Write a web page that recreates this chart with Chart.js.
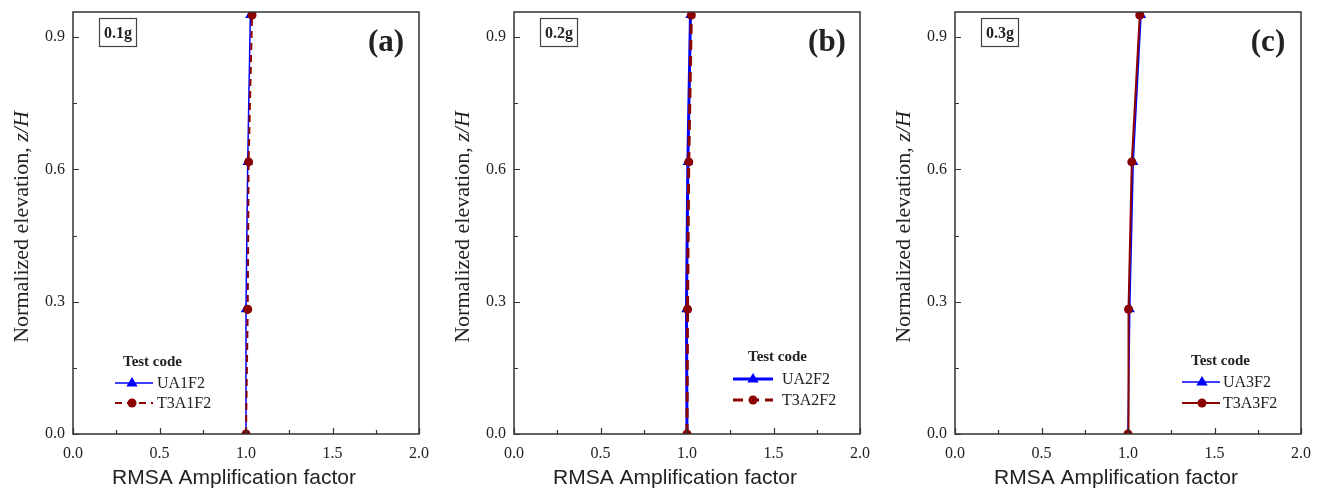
<!DOCTYPE html>
<html>
<head>
<meta charset="utf-8">
<script src="https://cdn.jsdelivr.net/npm/chart.js@4.4.0/dist/chart.umd.min.js"></script>
<style>
html,body{margin:0;padding:0;background:#fff;width:1321px;height:494px;overflow:hidden;}
.p{position:absolute;top:0;width:440px;height:494px;}
</style>
</head>
<body>
<div class="p" style="left:0px"><canvas id="c0" width="440" height="494"></canvas></div>
<div class="p" style="left:441px"><canvas id="c1" width="440" height="494"></canvas></div>
<div class="p" style="left:882px"><canvas id="c2" width="440" height="494"></canvas></div>
<script>
// ---- data ----
const elevations = [0, 0.283, 0.617, 0.95];
const ua1f2 = [1.0, 1.0, 1.01, 1.025];
const t3a1f2 = [1.0, 1.01, 1.015, 1.035];
const ua2f2 = [1.0, 0.997, 1.005, 1.02];
const t3a2f2 = [1.0, 1.003, 1.01, 1.025];
const ua3f2 = [1.0, 1.01, 1.03, 1.075];
const t3a3f2 = [1.0, 1.003, 1.022, 1.068];
const seriesNames = [["UA1F2","T3A1F2"],["UA2F2","T3A2F2"],["UA3F2","T3A3F2"]];
const seriesValues = [[ua1f2, t3a1f2],[ua2f2, t3a2f2],[ua3f2, t3a3f2]];
const pgaLabels = ["0.1g","0.2g","0.3g"];
const panelTags = ["(a)","(b)","(c)"];
const xTicks = [0, 0.5, 1.0, 1.5, 2.0];
const xMinor = [0.25, 0.75, 1.25, 1.75];
const yTicks = [0, 0.3, 0.6, 0.9];
const yMinor = [0.15, 0.45, 0.75];
const xTitle = "RMSA Amplification factor";
const yTitleMain = "Normalized elevation, ";
const yTitleItalic = "z/H";
const legendTitle = "Test code";

// ---- styles ----
const BLUE = "#0000FF", RED = "#8B0000";
const lineStyles = [
  [{w:1.5, dash:[]},{w:2, dash:[7,5]}],
  [{w:3, dash:[]},{w:3, dash:[10,6]}],
  [{w:1.6, dash:[]},{w:2, dash:[]}]
];
const legendLayout = [
  {title:123, y:[383,403], x0:115, x1:153, mx:132, tx:157, ty:362},
  {title:307, y:[379,400], x0:292, x1:332, mx:312, tx:341, ty:357},
  {title:309, y:[382,403], x0:300, x1:338, mx:320, tx:341, ty:361}
];
const SERIF = "'Liberation Serif', 'Times New Roman', serif";
const SANS = "'Liberation Sans', Arial, sans-serif";
const AXC = "#333";

function drawMarker(ctx, type, x, y, color){
  ctx.save();
  ctx.fillStyle = color;
  ctx.beginPath();
  if(type==='triangle'){
    const r=6;
    ctx.moveTo(x, y - r);
    ctx.lineTo(x + r*0.95, y + r*0.6);
    ctx.lineTo(x - r*0.95, y + r*0.6);
    ctx.closePath();
  } else {
    ctx.arc(x, y, 4.5, 0, Math.PI*2);
  }
  ctx.fill();
  ctx.restore();
}

const decor = {
  id:'decor',
  afterDraw(chart){
    const idx = chart.options.plugins.decor.idx;
    const {ctx, chartArea:a, scales:{x, y}} = chart;
    ctx.save();
    // frame
    ctx.strokeStyle = AXC; ctx.lineWidth = 1.5; ctx.setLineDash([]);
    ctx.strokeRect(a.left, a.top, a.right - a.left, a.bottom - a.top);
    ctx.lineWidth = 1.2;
    ctx.beginPath();
    yTicks.forEach(v=>{const p=Math.round(y.getPixelForValue(v))+0.5; ctx.moveTo(a.left, p); ctx.lineTo(a.left+6, p);});
    yMinor.forEach(v=>{const p=Math.round(y.getPixelForValue(v))+0.5; ctx.moveTo(a.left, p); ctx.lineTo(a.left+4, p);});
    xTicks.forEach(v=>{const p=Math.round(x.getPixelForValue(v))+0.5; ctx.moveTo(p, a.bottom); ctx.lineTo(p, a.bottom-6);});
    xMinor.forEach(v=>{const p=Math.round(x.getPixelForValue(v))+0.5; ctx.moveTo(p, a.bottom); ctx.lineTo(p, a.bottom-4);});
    ctx.stroke();

    // axis titles
    ctx.fillStyle = "#222";
    ctx.font = "21px " + SANS;
    ctx.textAlign = "center"; ctx.textBaseline = "alphabetic";
    ctx.fillText(xTitle, 234, 484);

    ctx.save();
    ctx.translate(28, 227);
    ctx.rotate(-Math.PI/2);
    ctx.font = "22px " + SERIF;
    const w1 = ctx.measureText(yTitleMain).width;
    ctx.font = "italic 22px " + SERIF;
    const w2 = ctx.measureText(yTitleItalic).width;
    const s = -(w1 + w2)/2;
    ctx.textAlign = "left"; ctx.textBaseline = "alphabetic";
    ctx.font = "22px " + SERIF;
    ctx.fillText(yTitleMain, s, 0);
    ctx.font = "italic 22px " + SERIF;
    ctx.fillText(yTitleItalic, s + w1, 0);
    ctx.restore();

    // PGA box
    ctx.font = "bold 16px " + SERIF;
    ctx.textAlign = "center";
    ctx.fillText(pgaLabels[idx], 118, 38);
    ctx.lineWidth = 1.2; ctx.strokeStyle = "#444";
    ctx.strokeRect(99.5, 18.5, 37, 28);

    // panel tag
    ctx.font = "bold 31px " + SERIF;
    ctx.textAlign = "center";
    ctx.fillText(panelTags[idx], 386, 51);

    // legend
    const L = legendLayout[idx];
    ctx.font = "bold 15px " + SERIF;
    ctx.textAlign = "left"; ctx.textBaseline = "middle";
    ctx.fillText(legendTitle, L.title, L.ty);
    chart.data.datasets.forEach((ds, i)=>{
      const yy = L.y[i];
      ctx.save();
      ctx.strokeStyle = ds.borderColor; ctx.lineWidth = ds.borderWidth;
      ctx.setLineDash(ds.borderDash || []);
      ctx.beginPath(); ctx.moveTo(L.x0, yy); ctx.lineTo(L.x1, yy); ctx.stroke();
      ctx.restore();
      drawMarker(ctx, ds.pointStyle, L.mx, yy, ds.borderColor);
      ctx.fillStyle = "#222";
      ctx.font = "16px " + SERIF;
      ctx.textAlign = "left"; ctx.textBaseline = "middle";
      ctx.fillText(ds.label, L.tx, yy + 1);
    });
    ctx.restore();
  }
};

function makePanel(idx){
  const colors = [BLUE, RED];
  const markers = ['triangle','circle'];
  const datasets = seriesValues[idx].map((vals, i)=>({
    label: seriesNames[idx][i],
    data: vals.map((v, k)=>({x: v, y: elevations[k]})),
    borderColor: colors[i],
    backgroundColor: colors[i],
    borderWidth: lineStyles[idx][i].w,
    borderDash: lineStyles[idx][i].dash,
    pointStyle: markers[i],
    pointRadius: i===0 ? 6 : 4.5,
    pointBorderWidth: 0,
    pointBackgroundColor: colors[i],
    tension: 0,
    order: i===0 ? 1 : 0
  }));
  new Chart(document.getElementById('c'+idx), {
    type: 'line',
    data: {datasets},
    options: {
      responsive: false,
      animation: false,
      devicePixelRatio: 1,
      layout: {padding: {left: 0, right: 21, top: 12, bottom: 0}},
      plugins: {legend: {display: false}, tooltip: {enabled: false}, decor: {idx}},
      scales: {
        x: {
          type: 'linear', min: 0, max: 2,
          afterBuildTicks: s => { s.ticks = xTicks.map(v=>({value:v})); },
          afterFit: s => { s.height = 60; s.paddingLeft = 0; s.paddingRight = 0; },
          grid: {display: false, drawTicks: false},
          border: {display: false},
          ticks: {padding: 10, color: '#222', font: {family: SERIF, size: 16}, callback: v => Number(v).toFixed(1), maxRotation: 0}
        },
        y: {
          type: 'linear', min: 0, max: 0.957,
          afterBuildTicks: s => { s.ticks = yTicks.map(v=>({value:v})); },
          afterFit: s => { s.width = 73; s.paddingTop = 0; s.paddingBottom = 0; },
          grid: {display: false, drawTicks: false},
          border: {display: false},
          ticks: {padding: 8, color: '#222', font: {family: SERIF, size: 16}, callback: v => Number(v).toFixed(1)}
        }
      }
    },
    plugins: [decor]
  });
}
[0,1,2].forEach(makePanel);
</script>
</body>
</html>
